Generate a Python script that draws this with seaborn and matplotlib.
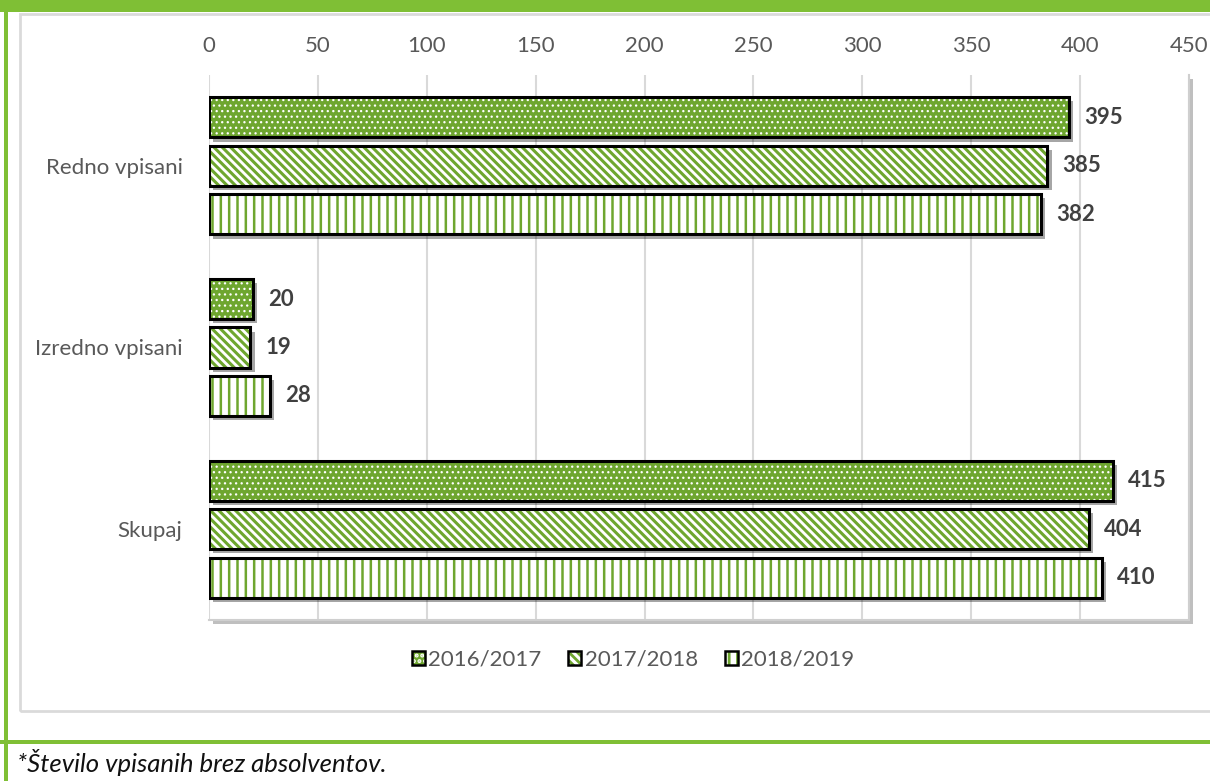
import pandas as pd
import numpy as np
import matplotlib
matplotlib.use("Agg")
import matplotlib.pyplot as plt
import seaborn as sns
from matplotlib.patches import Rectangle, Patch
from matplotlib import patheffects as pe

# podatki
kategorije = ['Redno vpisani', 'Izredno vpisani', 'Skupaj']
leta = ['2016/2017', '2017/2018', '2018/2019']
v_2016 = [395, 20, 415]
v_2017 = [385, 19, 404]
v_2018 = [382, 28, 410]

zelena = '#6ea62f'
zelena_okvir = '#7fbf35'
siva_txt = '#595959'

# barva polnila, vzorec, barva vzorca, debelina vzorca za vsako leto
polnila = ['#6ea62f', 'white', 'white']
vzorci = ['...', '\\\\\\\\', '||']
barve_vzorca = ['white', zelena, zelena]
debeline = [0.9, 2.2, 1.8]

df = pd.DataFrame({
    'kategorija': kategorije * 3,
    'leto': np.repeat(leta, 3),
    'vrednost': v_2016 + v_2017 + v_2018,
})

sns.set_style('white')
plt.rcParams['font.family'] = ['Lato', 'DejaVu Sans']
plt.rcParams['hatch.linewidth'] = 2.0


def nastavi_vzorec(p, i):
    p.set_facecolor(polnila[i])
    p.set_edgecolor(barve_vzorca[i])
    p.set_hatch(vzorci[i])
    p.set_linewidth(0)
    if hasattr(p, 'set_hatch_linewidth'):
        p.set_hatch_linewidth(debeline[i])


fig = plt.figure(figsize=(12.1, 7.81), dpi=100)
ax = fig.add_axes([209 / 1210, 1 - 620 / 781, 980 / 1210, 545 / 781])

sns.barplot(data=df, y='kategorija', x='vrednost', hue='leto',
            order=kategorije, hue_order=leta, palette=polnila,
            orient='h', width=0.8, gap=0.17, ax=ax, legend=False, errorbar=None)

for i, cont in enumerate(ax.containers):
    for p in cont.patches:
        nastavi_vzorec(p, i)
        p.set_zorder(2)
        x0, y0 = p.get_xy()
        w, h = p.get_width(), p.get_height()
        senca = Rectangle((x0, y0), w, h, facecolor='none', edgecolor='none', zorder=1.5,
                          path_effects=[pe.SimplePatchShadow(offset=(3, -3), shadow_rgbFace='black', alpha=0.35)])
        ax.add_patch(senca)
        obroba = Rectangle((x0, y0), w, h, fill=False, edgecolor='black', linewidth=2.2, zorder=3)
        ax.add_patch(obroba)
    ax.bar_label(cont, padding=11, fontsize=16, fontweight='bold', color='#404040')

ax.set_xlim(0, 450)
ax.set_ylim(2.5, -0.5)
ax.set_xticks(np.arange(0, 451, 50))
ax.xaxis.tick_top()
ax.tick_params(axis='x', length=0, pad=14, labelsize=16, labelcolor=siva_txt)
ax.tick_params(axis='y', length=0, pad=19, labelsize=16, labelcolor=siva_txt)
ax.set_xlabel('')
ax.set_ylabel('')
ax.grid(axis='x', color='#d9d9d9', linewidth=1.5)
ax.grid(axis='y', visible=False)
ax.set_axisbelow(True)
for s in ['top', 'left']:
    ax.spines[s].set_visible(False)
for s in ['right', 'bottom']:
    ax.spines[s].set_color('#cfcfcf')
    ax.spines[s].set_linewidth(1.5)
ax.patch.set_path_effects([pe.SimplePatchShadow(offset=(3, -3), shadow_rgbFace='black', alpha=0.25), pe.Normal()])

# legenda
rocke = []
for i in range(3):
    zg = Patch()
    nastavi_vzorec(zg, i)
    rocke.append((zg, Patch(fill=False, edgecolor='black', linewidth=1.8)))
fig.legend(rocke, leta, loc='center', bbox_to_anchor=(633 / 1210, 1 - 660 / 781), ncol=3,
           frameon=False, fontsize=16, labelcolor=siva_txt, handlelength=0.6, handleheight=0.6,
           handletextpad=0.15, columnspacing=1.2)

# okvir
fig.patches.append(Rectangle((20 / 1210, 1 - 711 / 781), 1.2, 697 / 781, transform=fig.transFigure,
                             fill=False, edgecolor='#dadada', linewidth=2, zorder=0))
fig.patches.append(Rectangle((0, 1 - 12 / 781), 1, 12 / 781, transform=fig.transFigure,
                             facecolor=zelena_okvir, edgecolor='none', zorder=5))
fig.patches.append(Rectangle((4 / 1210, 0), 4 / 1210, 1, transform=fig.transFigure,
                             facecolor=zelena_okvir, edgecolor='none', zorder=5))
fig.patches.append(Rectangle((0, 1 - 744 / 781), 1, 4 / 781, transform=fig.transFigure,
                             facecolor=zelena_okvir, edgecolor='none', zorder=5))

fig.text(17 / 1210, 1 - 763 / 781, '*Število vpisanih brez absolventov.', fontsize=18.5,
         style='italic', color='#111111', va='center', ha='left')

fig.savefig('out.png', dpi=100)
